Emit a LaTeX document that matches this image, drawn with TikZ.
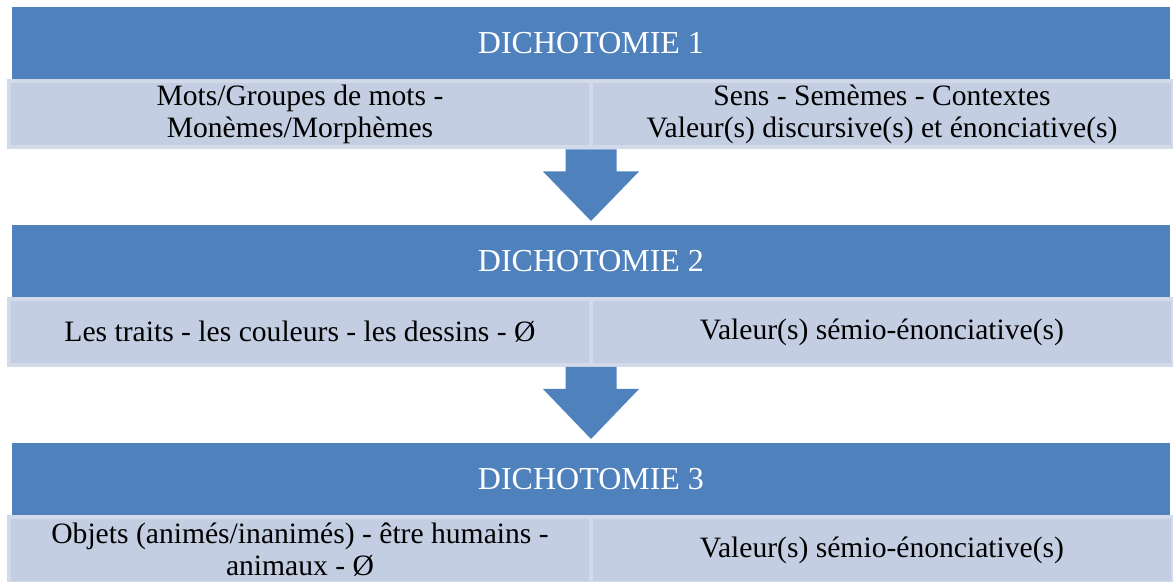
\documentclass[tikz,border=0pt]{standalone}
\usepackage{fontspec}
\setmainfont{Liberation Serif}
\usetikzlibrary{positioning,calc}

\definecolor{headblue}{HTML}{4F81BD}
\definecolor{subfill}{HTML}{C3CEE2}
\definecolor{subedge}{HTML}{D2DAE9}

\begin{document}
\begin{tikzpicture}[
            x=0.5pt, y=-0.5pt,
            header/.style={rectangle, fill=headblue, text=white, minimum width=579pt, minimum height=36pt, inner sep=0pt, outer sep=0pt, font=\fontsize{16}{16}\selectfont},
            subbox/.style={rectangle, fill=subfill, draw=subedge, line width=2pt, minimum width=291pt, minimum height=33pt, inner sep=0pt, align=center, font=\fontsize{14.8}{16}\selectfont},
            blockarrow/.style={fill=headblue},
            node distance=0pt
        ]
        \useasboundingbox (0,0) rectangle (1173,582);

        \node[header] (header1) at (591,43.5) {DICHOTOMIE 1};
        \node[header] (header2) at (591,261) {DICHOTOMIE 2};
        \node[header] (header3) at (591,479) {DICHOTOMIE 3};

        \node[subbox, below right=0pt and -2.5pt of header1.south west] (left1) {Mots/Groupes de mots -\\ Monèmes/Morphèmes};
        \node[subbox, right=-2pt of left1] (right1) {Sens - Semèmes - Contextes\\ Valeur(s) discursive(s) et énonciative(s)};

        \node[subbox, below right=0pt and -2.5pt of header2.south west] (left2) {Les traits - les couleurs - les dessins - Ø};
        \node[subbox, right=-2pt of left2] (right2) {Valeur(s) sémio-énonciative(s)};

        \node[subbox, below right=0pt and -2.5pt of header3.south west] (left3) {Objets (animés/inanimés) - être humains -\\ animaux - Ø};
        \node[subbox, right=-2pt of left3] (right3) {Valeur(s) sémio-énonciative(s)};

        % arrows between the levels
        \foreach \a/\b in {1/2,2/3}{
            \coordinate (top\a) at (header\a.south |- left\a.south);
            \fill[blockarrow] ([xshift=-12.75pt]top\a) -- ([xshift=-12.75pt,yshift=-11pt]top\a)
                -- ([xshift=-24pt,yshift=-11pt]top\a) -- ([yshift=2pt]header\b.north)
                -- ([xshift=24pt,yshift=-11pt]top\a) -- ([xshift=12.75pt,yshift=-11pt]top\a)
                -- ([xshift=12.75pt]top\a) -- cycle;
        }

    \end{tikzpicture}
\end{document}
